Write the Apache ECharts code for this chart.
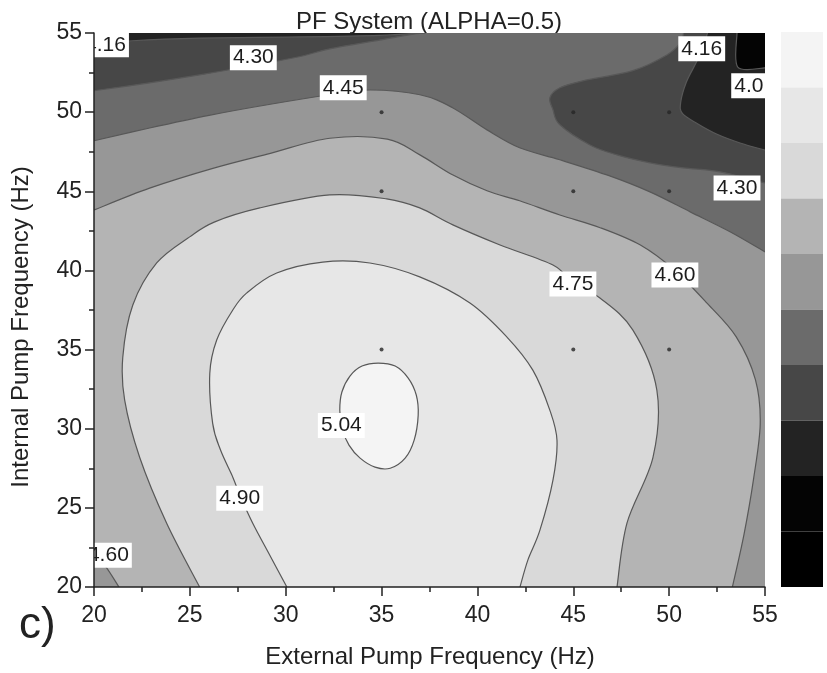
<!DOCTYPE html>
<html>
<head>
<meta charset="utf-8">
<script src="https://cdn.jsdelivr.net/npm/echarts@6/dist/echarts.min.js"></script>
<style>
  html, body { margin: 0; padding: 0; background: #ffffff; }
  #chart { width: 827px; height: 673px; }
</style>
</head>
<body>
<div id="chart"></div>
<script>
// Pump frequency range (Hz), shared by both axes
const FREQ_MIN = 20, FREQ_MAX = 55, FREQ_STEP = 5;

// Contour levels of the response surface
const contourLevels = [4.01, 4.16, 4.30, 4.45, 4.60, 4.75, 4.90, 5.04];

// Contour lines as [external Hz, internal Hz] vertices
const c401 = [[53.54, 55], [53.58, 52.85], [55, 52.8]];
const c416West = [[20, 54.1], [21.0, 54.35], [22.0, 54.51], [25.5, 54.68], [30.7, 54.75], [34.9, 54.85], [37.0, 55]];
const c416East = [[52.0, 55], [51.75, 54.0], [51.4, 53.1], [50.9, 51.9], [50.6, 50.6], [50.7, 49.9], [51.5, 49.25], [52.5, 48.6], [53.7, 48.05], [55, 47.6]];
const c430West = [[20, 51.35], [22.9, 51.85], [25.5, 52.35], [28.3, 52.95], [30.7, 53.5], [32.3, 54.0], [34.9, 54.55], [36.5, 54.9], [37.3, 55]];
const c430East = [[50.75, 55], [50.6, 54.4], [49.9, 53.63], [48.1, 52.62], [45.5, 51.98], [44.3, 51.54], [43.78, 50.91], [43.94, 50.15], [44.3, 49.2], [45.87, 47.93], [47.28, 47.3], [49.0, 46.8], [50.72, 46.48], [52.65, 46.23], [55, 45.53]];
const c445 = [[20, 48.19], [22.9, 49.0], [26.0, 49.8], [29.2, 50.5], [32.3, 51.1], [34.4, 51.4], [37.0, 51.1], [38.7, 50.28], [40.5, 48.88], [42.2, 47.75], [44.3, 46.99], [46.9, 45.97], [49.0, 44.96], [51.1, 43.7], [53.2, 42.43], [55, 41.17]];
const c460 = [[20, 43.82], [22.9, 45.2], [26.2, 46.45], [29.2, 47.4], [32.3, 48.35], [35.3, 48.3], [37.0, 47.3], [38.7, 46.04], [40.5, 45.03], [42.2, 44.4], [44.3, 43.5], [46.4, 42.7], [48.5, 41.6], [50.3, 40.0], [52.0, 37.9], [53.5, 35.8], [54.5, 33.1], [54.75, 30.3], [54.4, 26.8], [53.9, 23.3], [53.3, 20]];
const c460SW = [[20, 22.0], [20.6, 21.3], [21.3, 20]];
const c475 = [[25.51, 20], [23.79, 24.03], [22.38, 28.2], [21.6, 31.8], [21.5, 34.5], [22.02, 37.8], [23.27, 40.47], [24.99, 42.12], [26.3, 43.07], [28.65, 43.95], [32.3, 44.77], [35.27, 44.52], [36.99, 43.95], [38.72, 42.88], [41.18, 41.61], [43.94, 40.34], [44.98, 39.21], [46.39, 38.26], [48.11, 36.23], [49.36, 32.43], [49.16, 28.2], [47.8, 24.03], [47.28, 20]];
const c490 = [[30.06, 20], [29.17, 22.01], [28.28, 24.03], [27.61, 25.8], [27.24, 26.94], [26.6, 28.65], [26.19, 30.34], [26.04, 33.5], [26.4, 35.6], [27.24, 37.5], [27.97, 38.58], [29.53, 39.84], [31.93, 40.53], [34.39, 40.47], [36.99, 39.59], [39.61, 37.94], [41.54, 35.79], [42.89, 33.7], [43.78, 31.16], [44.15, 29.27], [43.94, 26.75], [43.26, 23.59], [42.63, 21.7], [42.22, 20]];
const c504 = [[34.82, 34.15], [35.71, 33.96], [36.39, 33.2], [36.81, 32.13], [36.91, 30.86], [36.7, 29.28], [36.23, 28.14], [35.45, 27.5], [34.66, 27.57], [33.88, 28.14], [33.3, 28.96], [32.93, 30.04], [32.82, 31.18], [32.93, 32.32], [33.35, 33.33], [33.98, 33.96]];

// Measured operating points
const measuredExternal = [35, 45, 50, 35, 45, 50, 35, 45, 50];
const measuredInternal = [50, 50, 50, 45, 45, 45, 35, 35, 35];

// Contour label anchors and the level each one names
const labelExternal = [20.6, 28.31, 33.0, 51.7, 54.46, 53.54, 44.98, 50.3, 32.9, 27.6, 20.75];
const labelInternal = [54.26, 53.44, 51.54, 54.0, 51.67, 45.21, 39.15, 39.71, 30.2, 25.6, 22.0];
const labelLevel = [4.16, 4.30, 4.45, 4.16, 4.01, 4.30, 4.75, 4.60, 5.04, 4.90, 4.60];

// Grey scale of the filled bands, lowest to highest
const bandBreaks = [3.86].concat(contourLevels);
const bandColors = ['#000000', '#040404', '#232323', '#474747', '#6b6b6b', '#979797', '#b4b4b4', '#d9d9d9', '#e7e7e7', '#f4f4f4'];

const FONT = '"Liberation Sans", Arial, sans-serif';

// Filled regions: each covers everything at or above its level.
// A region is a chain of pieces: curved runs follow a contour, straight runs follow the frame.
const rev = a => a.slice().reverse();
const SW = [FREQ_MIN, FREQ_MIN], SE = [FREQ_MAX, FREQ_MIN], NE = [FREQ_MAX, FREQ_MAX], NW = [FREQ_MIN, FREQ_MAX];
const curve = pts => ({ pts, curve: true });
const edge = pts => ({ pts, curve: false });
const regionPaths = [
  [edge([SW, SE, NE, NW])],
  [edge([SW, SE]), curve(rev(c401)), edge([NW])],
  [edge([SW, SE]), curve(rev(c416East)), curve(rev(c416West))],
  [edge([SW, SE]), curve(rev(c430East)), curve(rev(c430West))],
  [edge([SW, SE]), curve(rev(c445))],
  [curve(c460), curve(rev(c460SW))],
  [curve(c475)],
  [curve(c490)],
  [{ pts: c504, curve: true, closed: true }]
];
const regionLevels = bandBreaks.slice();

const contourLines = [c401, c416West, c416East, c430West, c430East, c445, c460, c460SW, c475, c490, c504];
const closedLine = [false, false, false, false, false, false, false, false, false, false, true];

const pieces = bandColors.map((color, i) => {
  if (i === 0) return { lt: bandBreaks[0], color };
  if (i === bandColors.length - 1) return { gte: bandBreaks[i - 1], color };
  return { gte: bandBreaks[i - 1], lt: bandBreaks[i], color };
});

// SVG path through pixel points, drawn as a Catmull-Rom spline
const f = v => v.toFixed(2);
function splineCmds(P, closed) {
  const n = P.length;
  let s = '';
  const segs = closed ? n : n - 1;
  for (let i = 0; i < segs; i++) {
    const at = k => closed ? P[(k + n) % n] : P[Math.max(0, Math.min(n - 1, k))];
    const p0 = at(i - 1), p1 = at(i), p2 = at(i + 1), p3 = at(i + 2);
    const c1 = [p1[0] + (p2[0] - p0[0]) / 6, p1[1] + (p2[1] - p0[1]) / 6];
    const c2 = [p2[0] - (p3[0] - p1[0]) / 6, p2[1] - (p3[1] - p1[1]) / 6];
    s += ' C' + f(c1[0]) + ' ' + f(c1[1]) + ' ' + f(c2[0]) + ' ' + f(c2[1]) + ' ' + f(p2[0]) + ' ' + f(p2[1]);
  }
  return s;
}
function buildPath(pieceList, api, close) {
  let d = '';
  pieceList.forEach((pc, idx) => {
    const P = pc.pts.map(p => api.coord(p));
    d += (idx === 0 ? 'M' : ' L') + f(P[0][0]) + ' ' + f(P[0][1]);
    if (pc.curve) d += splineCmds(P, !!pc.closed);
    else for (let i = 1; i < P.length; i++) d += ' L' + f(P[i][0]) + ' ' + f(P[i][1]);
  });
  return close ? d + ' Z' : d;
}

const axisCommon = {
  type: 'value',
  min: FREQ_MIN,
  max: FREQ_MAX,
  interval: FREQ_STEP,
  z: 10,
  axisLine: { show: true, onZero: false, lineStyle: { color: '#222', width: 1.5 } },
  axisTick: { show: true, length: 9, lineStyle: { color: '#222', width: 1.5 } },
  minorTick: { show: true, splitNumber: 2, length: 5, lineStyle: { color: '#222', width: 1.5 } },
  splitLine: { show: false },
  minorSplitLine: { show: false }
};

const chart = echarts.init(document.getElementById('chart'), null, { renderer: 'canvas' });

chart.setOption({
  animation: false,
  backgroundColor: '#ffffff',
  grid: { left: 94, right: 62, top: 33, bottom: 86, containLabel: false, outerBoundsMode: 'none' },
  xAxis: Object.assign({}, axisCommon, {
    axisLabel: { margin: 17, fontSize: 23, color: '#222', fontFamily: FONT }
  }),
  yAxis: Object.assign({}, axisCommon, {
    axisLabel: { margin: 12, fontSize: 23, color: '#222', fontFamily: FONT }
  }),
  visualMap: {
    type: 'piecewise',
    seriesIndex: 0,
    dimension: 2,
    orient: 'vertical',
    left: 781,
    top: 32,
    padding: 0,
    itemWidth: 42,
    itemHeight: 55.5,
    itemGap: 0,
    itemSymbol: 'rect',
    showLabel: false,
    hoverLink: false,
    selectedMode: false,
    pieces: pieces
  },
  graphic: [
    {
      type: 'text', x: 429, y: 22, silent: true,
      style: { text: 'PF System (ALPHA=0.5)', fill: '#222', font: '24px ' + FONT, align: 'center', verticalAlign: 'middle', textAlign: 'center', textVerticalAlign: 'middle' }
    },
    {
      type: 'text', x: 430, y: 657, silent: true,
      style: { text: 'External Pump Frequency (Hz)', fill: '#222', font: '24px ' + FONT, align: 'center', verticalAlign: 'middle', textAlign: 'center', textVerticalAlign: 'middle' }
    },
    {
      type: 'text', x: 21, y: 327, rotation: Math.PI / 2, silent: true,
      style: { text: 'Internal Pump Frequency (Hz)', fill: '#222', font: '24px ' + FONT, align: 'center', verticalAlign: 'middle', textAlign: 'center', textVerticalAlign: 'middle' }
    },
    {
      type: 'text', x: 19, y: 626, silent: true,
      style: { text: 'c)', fill: '#222', font: '44px ' + FONT, align: 'left', verticalAlign: 'middle', textAlign: 'left', textVerticalAlign: 'middle' }
    }
  ],
  series: [
    {
      // filled contour bands
      type: 'custom',
      coordinateSystem: 'cartesian2d',
      clip: true,
      silent: true,
      z: 1,
      data: regionLevels.map(lv => [FREQ_MIN, FREQ_MIN, lv]),
      renderItem: (params, api) => ({
        type: 'path',
        shape: { pathData: buildPath(regionPaths[params.dataIndex], api, true) },
        style: { fill: api.visual('color'), stroke: null }
      })
    },
    {
      // contour lines
      type: 'custom',
      coordinateSystem: 'cartesian2d',
      clip: true,
      silent: true,
      z: 2,
      data: contourLines.map(c => [c[0][0], c[0][1]]),
      renderItem: (params, api) => ({
        type: 'path',
        shape: {
          pathData: buildPath([{ pts: contourLines[params.dataIndex], curve: true, closed: closedLine[params.dataIndex] }], api, closedLine[params.dataIndex])
        },
        style: { fill: null, stroke: '#585858', lineWidth: 1.2 }
      })
    },
    {
      // measured operating points
      type: 'scatter',
      silent: true,
      z: 3,
      symbol: 'circle',
      symbolSize: 4,
      itemStyle: { color: '#262626' },
      data: measuredExternal.map((x, i) => [x, measuredInternal[i]])
    },
    {
      // contour value labels
      type: 'custom',
      coordinateSystem: 'cartesian2d',
      clip: true,
      silent: true,
      z: 4,
      data: labelExternal.map((x, i) => [x, labelInternal[i]]),
      renderItem: (params, api) => {
        const p = api.coord([api.value(0), api.value(1)]);
        return {
          type: 'text',
          x: p[0],
          y: p[1],
          style: {
            text: labelLevel[params.dataIndex].toFixed(2),
            fill: '#1c1c1c',
            font: '21px ' + FONT,
            align: 'center',
            verticalAlign: 'middle',
            backgroundColor: '#ffffff',
            padding: [2, 3]
          }
        };
      }
    }
  ]
});
</script>
</body>
</html>
